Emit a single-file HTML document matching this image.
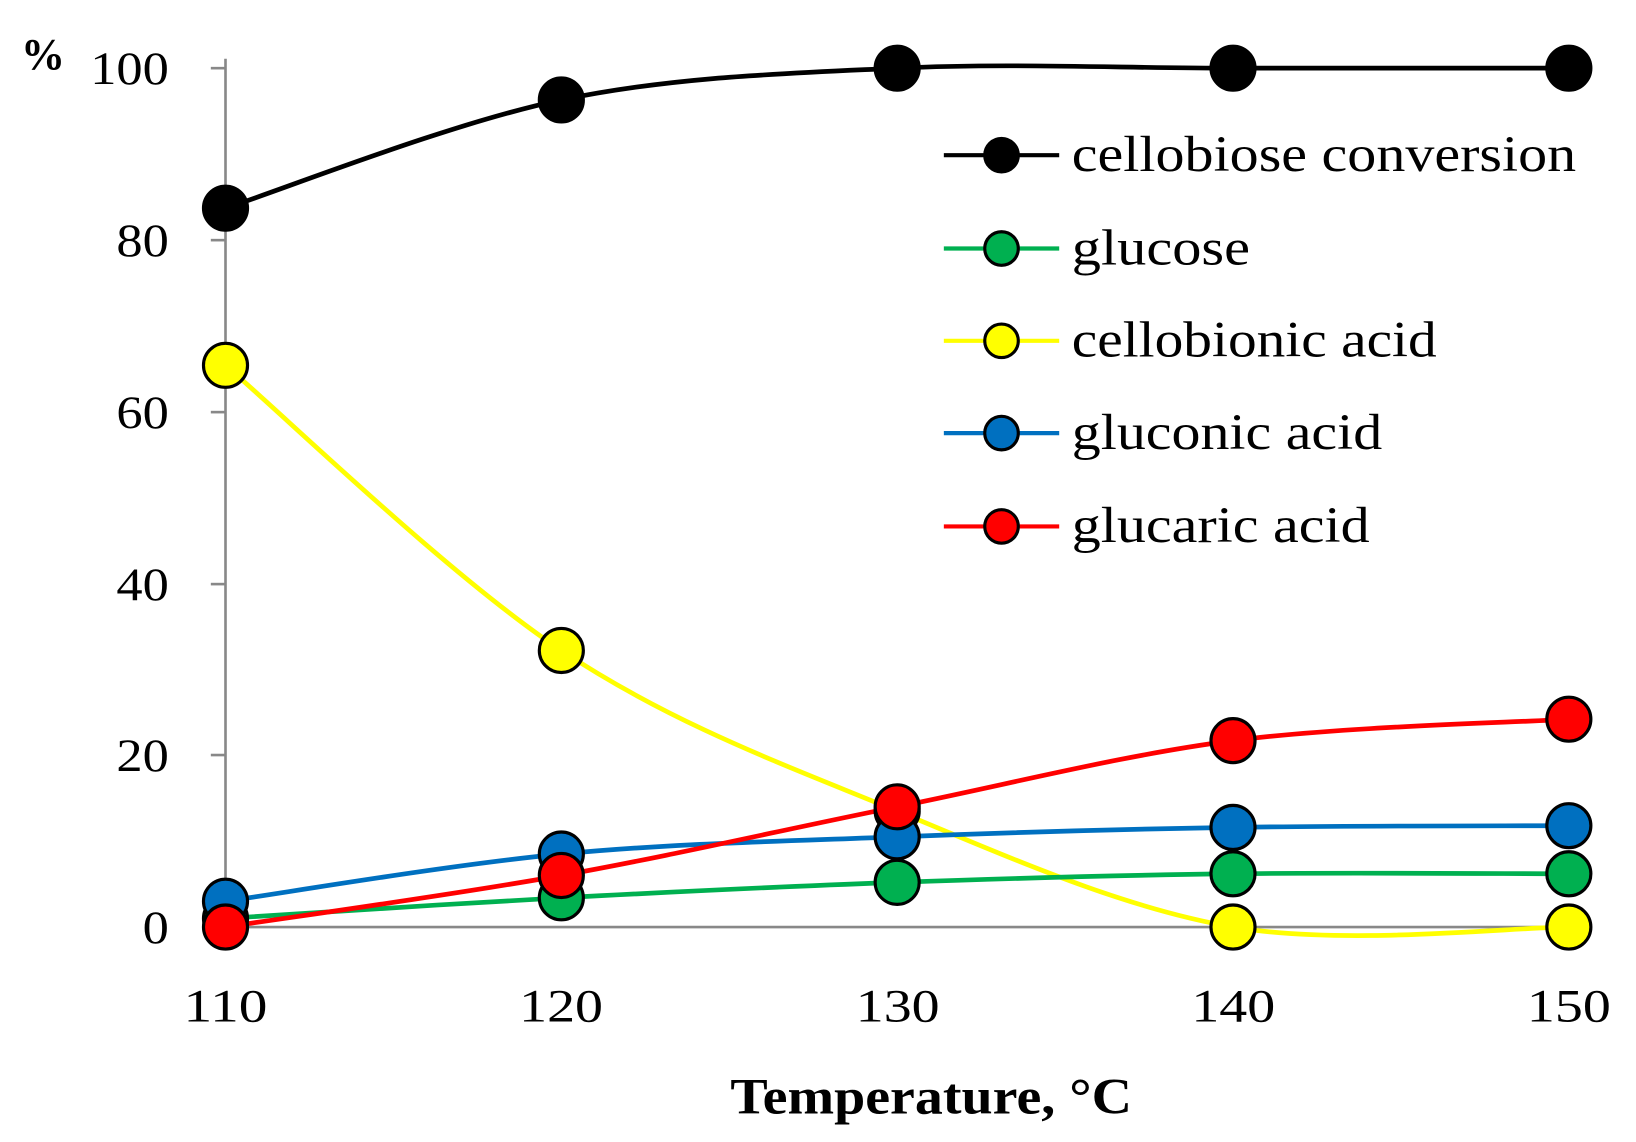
<!DOCTYPE html>
<html><head><meta charset="utf-8"><style>
html,body{margin:0;padding:0;background:#fff;}
svg{display:block;}
text{font-family:"Liberation Serif",serif;fill:#000;}
</style></head><body>
<svg id="s" width="1636" height="1142" viewBox="0 0 1560 1089" xmlns="http://www.w3.org/2000/svg">
<g stroke="#888" stroke-width="2.5">
<line x1="215" y1="56" x2="215" y2="884"/>
<line x1="215" y1="884" x2="1496" y2="884"/>
<line x1="201" y1="65" x2="215" y2="65"/>
<line x1="201" y1="229" x2="215" y2="229"/>
<line x1="201" y1="393" x2="215" y2="393"/>
<line x1="201" y1="557" x2="215" y2="557"/>
<line x1="201" y1="720" x2="215" y2="720"/>
<line x1="201" y1="884" x2="215" y2="884"/>
</g>
<g font-size="44" text-anchor="end">
<text x="161" y="80" textLength="75" lengthAdjust="spacingAndGlyphs">100</text>
<text x="161" y="244" textLength="50" lengthAdjust="spacingAndGlyphs">80</text>
<text x="161" y="408" textLength="50" lengthAdjust="spacingAndGlyphs">60</text>
<text x="161" y="572" textLength="50" lengthAdjust="spacingAndGlyphs">40</text>
<text x="161" y="735" textLength="50" lengthAdjust="spacingAndGlyphs">20</text>
<text x="161" y="899" textLength="25" lengthAdjust="spacingAndGlyphs">0</text>
</g>
<text x="20" y="66" font-size="42" font-weight="bold">%</text>
<g font-size="44" text-anchor="middle">
<text x="215" y="974" textLength="80" lengthAdjust="spacingAndGlyphs">110</text>
<text x="535" y="974" textLength="80" lengthAdjust="spacingAndGlyphs">120</text>
<text x="856" y="974" textLength="80" lengthAdjust="spacingAndGlyphs">130</text>
<text x="1176" y="974" textLength="80" lengthAdjust="spacingAndGlyphs">140</text>
<text x="1496" y="974" textLength="80" lengthAdjust="spacingAndGlyphs">150</text>
</g>
<text x="888" y="1062" font-size="48" font-weight="bold" text-anchor="middle" textLength="383" lengthAdjust="spacingAndGlyphs">Temperature, °C</text>
<g id="series"></g>
<g font-size="48">
<line x1="900" y1="148" x2="1010" y2="148" stroke="#000" stroke-width="4"/><circle cx="955" cy="148" r="16" fill="#000" stroke="#000" stroke-width="3"/>
<text x="1022" y="163" textLength="481" lengthAdjust="spacingAndGlyphs">cellobiose conversion</text>
<line x1="900" y1="237" x2="1010" y2="237" stroke="#00b050" stroke-width="4"/><circle cx="955" cy="237" r="16" fill="#00b050" stroke="#000" stroke-width="3"/>
<text x="1022" y="252" textLength="170" lengthAdjust="spacingAndGlyphs">glucose</text>
<line x1="900" y1="325" x2="1010" y2="325" stroke="#ffff00" stroke-width="4"/><circle cx="955" cy="325" r="16" fill="#ffff00" stroke="#000" stroke-width="3"/>
<text x="1022" y="340" textLength="348" lengthAdjust="spacingAndGlyphs">cellobionic acid</text>
<line x1="900" y1="413" x2="1010" y2="413" stroke="#0070c0" stroke-width="4"/><circle cx="955" cy="413" r="16" fill="#0070c0" stroke="#000" stroke-width="3"/>
<text x="1022" y="428" textLength="296" lengthAdjust="spacingAndGlyphs">gluconic acid</text>
<line x1="900" y1="502" x2="1010" y2="502" stroke="#ff0000" stroke-width="4"/><circle cx="955" cy="502" r="16" fill="#ff0000" stroke="#000" stroke-width="3"/>
<text x="1022" y="517" textLength="284" lengthAdjust="spacingAndGlyphs">glucaric acid</text>
</g>
</svg>
<script>
var xs=[215,535.25,855.5,1175.75,1496];
function Y(v){return 884-v*8.19;}
var S=[
["#ffff00",[65.4,32.2,13.5,0,0]],
["#00b050",[1,3.4,5.2,6.2,6.2]],
["#0070c0",[3,8.5,10.5,11.6,11.8]],
["#ff0000",[0,6,14,21.7,24.2]],
["#000000",[83.7,96.3,100,100,100]]
];
var g=document.getElementById("series"),h="",mk="";
S.forEach(function(s){
 var p=xs.map(function(x,i){return [x,Y(s[1][i])];});
 var d="M"+p[0][0]+","+p[0][1];
 for(var i=0;i<p.length-1;i++){
  var p0=p[Math.max(i-1,0)],p1=p[i],p2=p[i+1],p3=p[Math.min(i+2,p.length-1)];
  var c1=[p1[0]+(p2[0]-p0[0])/6,p1[1]+(p2[1]-p0[1])/6];
  var c2=[p2[0]-(p3[0]-p1[0])/6,p2[1]-(p3[1]-p1[1])/6];
  d+=" C"+c1+" "+c2+" "+p2;
 }
 h+='<path d="'+d+'" fill="none" stroke="'+s[0]+'" stroke-width="4.5"/>';
 p.forEach(function(q){mk+='<circle cx="'+q[0]+'" cy="'+q[1]+'" r="21" fill="'+s[0]+'" stroke="#000" stroke-width="3"/>';});
});
g.innerHTML=h+mk;
</script>
</body></html>
